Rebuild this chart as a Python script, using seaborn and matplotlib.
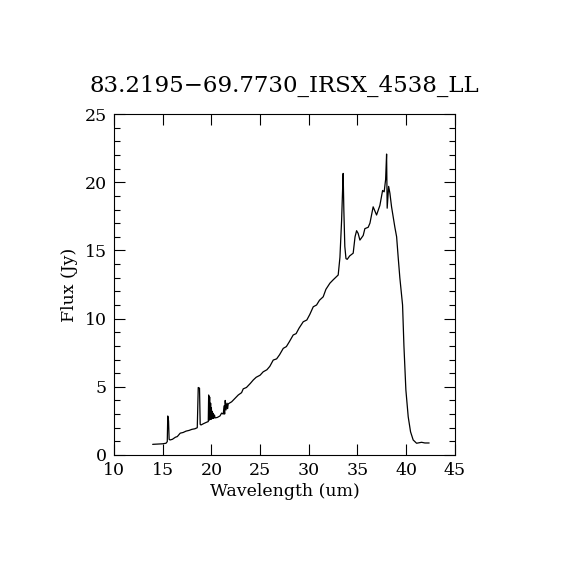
"""
IRS LL spectrum of 83.2195-69.7730, flux against wavelength
"""

import matplotlib
matplotlib.use('Agg')
import matplotlib.pyplot as plt
import numpy as np
import pandas as pd
import seaborn as sns
from matplotlib.ticker import MultipleLocator

title = '83.2195\u221269.7730_IRSX_4538_LL'

# values
wavelength = [13.97, 14.5, 15.0, 15.34, 15.47, 15.52, 15.6, 15.66, 15.75, 16.0,
              16.3, 16.5, 16.8, 17.1, 17.4, 17.7, 18.0, 18.3, 18.55, 18.65,
              18.78, 18.85, 18.93, 19.2, 19.5, 19.68, 19.72, 19.76, 19.82, 19.86,
              19.92, 19.96, 20.0, 20.04, 20.1, 20.14, 20.2, 20.24, 20.32, 20.37,
              20.6, 20.88, 21.05, 21.22, 21.3, 21.36, 21.42, 21.5, 21.6, 21.66,
              21.73, 22.08, 22.42, 22.76, 23.1, 23.27, 23.6, 24.0, 24.3, 24.6,
              25.0, 25.32, 25.7, 26.0, 26.35, 26.7, 27.0, 27.38, 27.7, 28.0,
              28.4, 28.7, 29.0, 29.43, 29.8, 30.1, 30.46, 30.8, 31.1, 31.48,
              31.76, 32.17, 32.51, 33.02, 33.2, 33.37, 33.47, 33.53, 33.6, 33.7,
              33.82, 33.95, 34.2, 34.56, 34.75, 34.91, 35.07, 35.25, 35.59, 35.76,
              36.1, 36.28, 36.61, 36.96, 37.3, 37.58, 37.74, 37.89, 37.99, 38.05,
              38.2, 38.33, 38.5, 38.84, 39.02, 39.18, 39.35, 39.63, 39.77, 39.97,
              40.21, 40.45, 40.72, 41.07, 41.58, 41.92, 42.36]
flux = [0.78, 0.80, 0.82, 0.86, 0.98, 2.86, 2.5, 1.15, 1.10, 1.15,
        1.30, 1.35, 1.60, 1.65, 1.75, 1.80, 1.88, 1.92, 2.00, 4.95,
        4.90, 2.25, 2.20, 2.30, 2.40, 2.45, 4.40, 2.55, 4.25, 2.60,
        3.80, 2.62, 3.45, 2.65, 3.20, 2.68, 3.05, 2.70, 2.93, 2.72,
        2.75, 2.86, 3.07, 3.00, 3.60, 3.00, 4.00, 3.30, 3.80, 3.40,
        3.75, 3.90, 4.15, 4.40, 4.57, 4.85, 4.95, 5.25, 5.50, 5.70,
        5.85, 6.10, 6.25, 6.50, 6.96, 7.05, 7.35, 7.82, 7.95, 8.30,
        8.80, 8.90, 9.30, 9.77, 9.90, 10.30, 10.87, 11.00, 11.35, 11.60,
        12.15, 12.60, 12.85, 13.20, 14.5, 17.2, 19.4, 20.65, 18.0, 15.3,
        14.4, 14.35, 14.6, 14.8, 16.0, 16.45, 16.25, 15.76, 16.1, 16.6,
        16.7, 17.0, 18.2, 17.6, 18.3, 19.4, 19.3, 20.2, 22.07, 18.1,
        19.7, 19.2, 18.2, 16.7, 16.0, 14.5, 13.0, 11.0, 8.0, 4.77,
        2.80, 1.70, 1.10, 0.86, 0.93, 0.88, 0.88]

spec = pd.DataFrame({'Wavelength': wavelength, 'Flux': flux})

sns.set_style('ticks')
plt.rcParams['font.family'] = ['DejaVu Serif']
plt.rcParams['text.color'] = 'black'
plt.rcParams['axes.labelcolor'] = 'black'

fig = plt.figure(figsize=(5.7, 5.7), dpi=100, facecolor='white')
ax = fig.add_axes([0.2, 0.2018, 0.598, 0.598])

sns.lineplot(data=spec, x='Wavelength', y='Flux', estimator=None, sort=False,
             color='black', linewidth=0.9, ax=ax)

ax.set_xlim(10, 45)
ax.set_ylim(0, 25)
ax.xaxis.set_major_locator(MultipleLocator(5))
ax.yaxis.set_major_locator(MultipleLocator(5))
ax.yaxis.set_minor_locator(MultipleLocator(1))
ax.tick_params(which='both', direction='in', top=True, right=True,
               color='black', width=0.8, labelsize=12.5, labelcolor='black')
ax.tick_params(which='major', length=8, pad=5)
ax.tick_params(which='minor', length=4)
for spine in ax.spines.values():
    spine.set_visible(True)
    spine.set_linewidth(0.8)
    spine.set_color('black')

ax.set_xlabel('Wavelength (um)', fontsize=12.5, labelpad=3)
ax.set_ylabel('Flux (Jy)', fontsize=12.5, labelpad=5)
ax.set_title(title, fontsize=16.5, pad=16, color='black')

fig.savefig('out.png', dpi=100, facecolor='white')
